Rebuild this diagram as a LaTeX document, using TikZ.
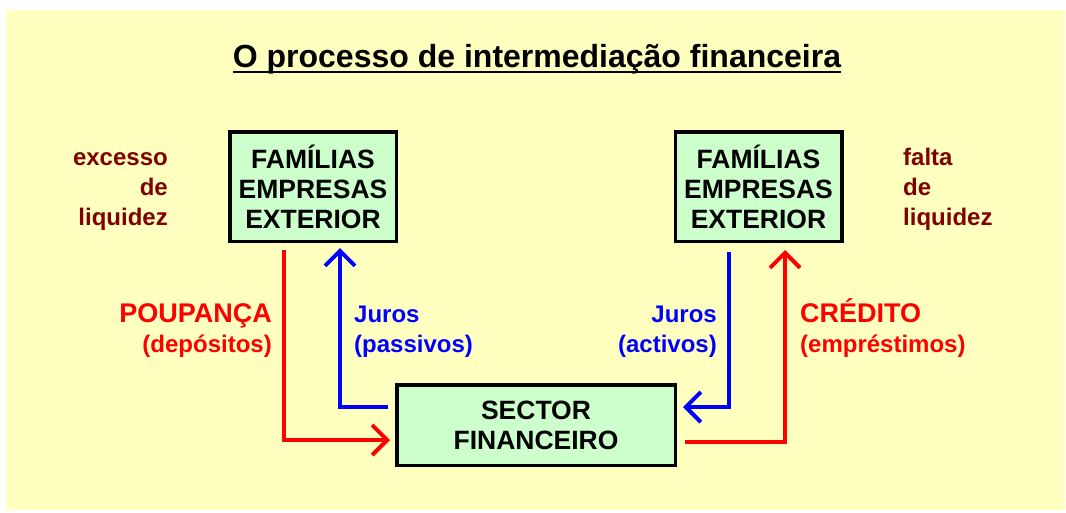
\documentclass[tikz,border=0pt]{standalone}
\usepackage{fontspec}
\setmainfont{Liberation Sans}
\usetikzlibrary{positioning}
\usetikzlibrary{arrows.meta}
\definecolor{bgyellow}{RGB}{255,255,192}
\definecolor{boxgreen}{RGB}{204,255,204}
\definecolor{liqbrown}{RGB}{128,0,0}
\tikzset{>={Straight Barb[length=15pt,width=30pt]}}
\tikzset{agent/.style={draw,line width=3.5pt,fill=boxgreen,align=center,inner sep=0pt,font=\fontsize{26.5}{30}\selectfont\bfseries}}
\tikzset{lbl/.style={inner sep=0pt,font=\fontsize{24}{30}\selectfont\bfseries}}
\tikzset{flow/.style={line width=4pt}}
\newcommand{\biglbl}[1]{{\fontsize{27}{30}\selectfont #1}}

\begin{document}
\begin{tikzpicture}[x=1pt,y=-1pt]
        \useasboundingbox (0,0) rectangle (1066,512);
        \fill[bgyellow] (6,10) rectangle (1065,510);

        \node[inner sep=0pt,anchor=base,font=\fontsize{32}{36}\selectfont\bfseries] (title) at (537,67) {O processo de intermediação financeira};
        \draw[line width=2.5pt] ([yshift=-5pt]title.base west) -- ([yshift=-5pt]title.base east);

        \node[agent,minimum width=166.5pt,minimum height=109.5pt] (famL) at (313,186.5) {FAMÍLIAS\\EMPRESAS\\EXTERIOR};
        \node[agent,minimum width=166.5pt,minimum height=109.5pt] (famR) at (758.5,186.5) {FAMÍLIAS\\EMPRESAS\\EXTERIOR};
        \node[agent,minimum width=278.5pt,minimum height=80.5pt] (sector) at (536,425) {SECTOR\\FINANCEIRO};

        % base anchor sits on the last line
        \node[lbl,liqbrown,align=right,anchor=base east] (excesso) at (168,225) {excesso\\de\\liquidez};
        \node[lbl,liqbrown,align=left,anchor=base west] (falta) at (903,225) {falta\\de\\liquidez};

        \node[lbl,red,align=right,anchor=base east] (poup) at (272,352) {\biglbl{POUPANÇA}\\(depósitos)};
        \node[lbl,blue,align=left,anchor=base west] (jpass) at (354,352) {Juros\\(passivos)};
        \node[lbl,blue,align=right,anchor=base east] (jact) at (717,352) {Juros\\(activos)};
        \node[lbl,red,align=left,anchor=base west] (cred) at (800,352) {\biglbl{CRÉDITO}\\(empréstimos)};

        \draw[flow,red,->] ([xshift=-29pt,yshift=-7pt]famL.south) |- ([xshift=-5pt,yshift=-15pt]sector.west);
        \draw[flow,blue,->] ([xshift=-7pt,yshift=18pt]sector.west) -| ([xshift=27pt,yshift=-5pt]famL.south);
        \draw[flow,blue,->] ([xshift=-29.5pt,yshift=-9pt]famR.south) |- ([xshift=6pt,yshift=18pt]sector.east);
        \draw[flow,red,->] ([xshift=8pt,yshift=-17pt]sector.east) -| ([xshift=26.5pt,yshift=-7pt]famR.south);
\end{tikzpicture}
\end{document}
